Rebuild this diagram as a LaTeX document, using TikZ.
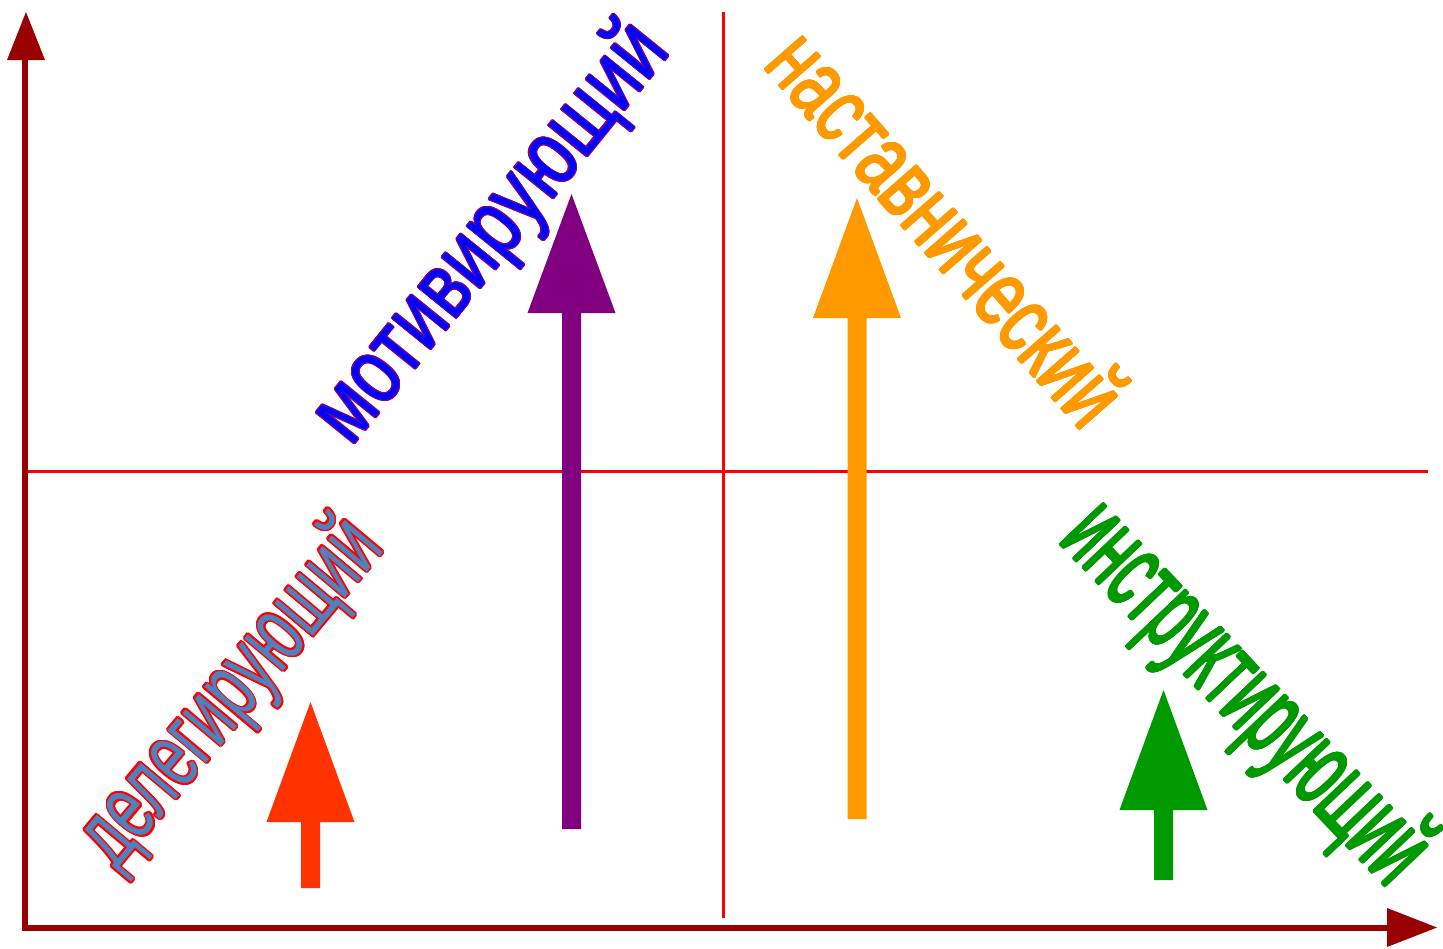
\documentclass[tikz,border=0pt]{standalone}
\usepackage{fontspec}
\setmainfont{Liberation Sans}
\usepackage[copies]{contour}
\definecolor{axiscol}{HTML}{990000}
\definecolor{crosscol}{HTML}{FF0000}
\definecolor{delegfill}{HTML}{4F81BD}
\definecolor{motivfill}{HTML}{0000FF}
\definecolor{purplecol}{HTML}{800080}
\definecolor{orangecol}{HTML}{FF9900}
\definecolor{greencol}{HTML}{009900}
\definecolor{redarrow}{HTML}{FF3300}
\newcommand\blockarrow[5]{% colour, x centre, y bottom, y head base, y tip
  \fill[#1] ({#2-9.5},#3) -- ({#2-9.5},#4) -- ({#2-44},#4) -- (#2,#5) -- ({#2+44},#4) -- ({#2+9.5},#4) -- ({#2+9.5},#3) -- cycle;}
\tikzset{
  crossline/.style={draw=crosscol, line width=3pt},
  wordart/.style={inner sep=0pt, outer sep=0pt}
}
\begin{document}
\begin{tikzpicture}[x=1pt,y=-1pt]
\useasboundingbox (0,0) rectangle (1443,948);
% quadrant lines
\coordinate (vt) at (723,12); \coordinate (vb) at (723,918);
\coordinate (hl) at (28,471); \coordinate (hr) at (1428,471);
\draw[crossline] (vt) -- (vb);
\draw[crossline] (hl) -- (hr);
% axes
\fill[axiscol] (22,931) rectangle (28,58);
\fill[axiscol] (7,60) -- (26,12) -- (45,60) -- cycle;
\fill[axiscol] (22,925) rectangle (1390,931);
\fill[axiscol] (1387,908) -- (1437,927.5) -- (1387,947) -- cycle;
% block arrows
\blockarrow{redarrow}{310.5}{888}{822}{702}
\blockarrow{purplecol}{571.5}{829}{313}{194}
\blockarrow{orangecol}{857}{819}{318}{198}
\blockarrow{greencol}{1163.5}{880}{810}{690}
% labels
\contourlength{2.1pt}
\node[wordart, rotate=50, anchor=base east] (deleg) at (386,549)
  {\fontsize{95}{95}\selectfont\scalebox{0.64}[1]{\color{delegfill}\contour{crosscol}{делегирующий}}};
\contourlength{1.2pt}
\node[wordart, rotate=51, anchor=base east] (motiv) at (672,52)
  {\fontsize{93}{93}\selectfont\scalebox{0.775}[1]{\color{motivfill}\contour{purplecol}{мотивирующий}}};
\contourlength{1.1pt}
\node[wordart, rotate=-48.8, anchor=base west] (nast) at (762,66)
  {\fontsize{95}{95}\selectfont\scalebox{0.695}[1]{\color{orangecol}\contour{orangecol}{наставнический}}};
\contourlength{1.5pt}
\node[wordart, rotate=-46.5, anchor=base west] (instr) at (1058,541)
  {\fontsize{110}{110}\selectfont\scalebox{0.525}[1]{\color{greencol}\contour{greencol}{инструктирующий}}};
\end{tikzpicture}
\end{document}
